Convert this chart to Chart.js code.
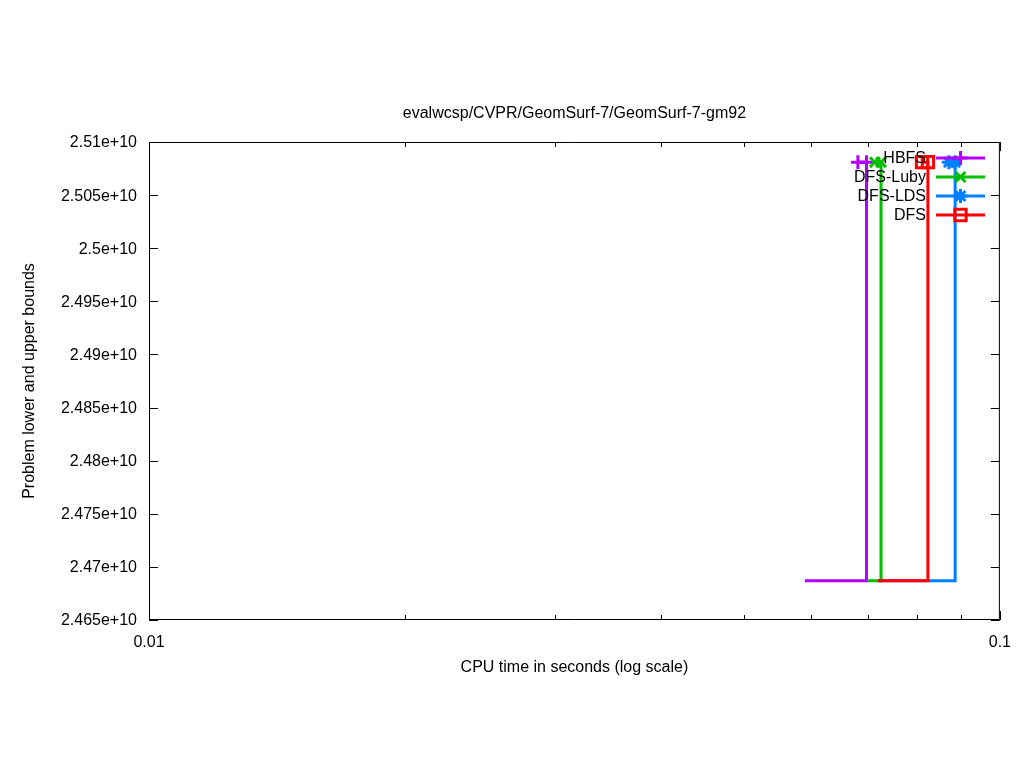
<!DOCTYPE html>
<html>
<head>
<meta charset="utf-8">
<title>GeomSurf-7-gm92</title>
<script src="https://cdn.jsdelivr.net/npm/chart.js@4/dist/chart.umd.min.js"></script>
<style>
    html, body { margin: 0; padding: 0; background: #ffffff; }
    #chart { display: block; }
</style>
</head>
<body>
<canvas id="chart" width="1024" height="768"></canvas>
<script>
// Series names, in legend order
const algoNames = ['HBFS', 'DFS-Luby', 'DFS-LDS', 'DFS'];

// Each series: lower bound run, jump, then upper bound found (time in s, bound)
const hbfsTimes = [0.0590, 0.0697, 0.0697, 0.0681];
const hbfsBounds = [2.4687e10, 2.4687e10, 2.5081e10, 2.5081e10];

const lubyTimes = [0.0698, 0.0725, 0.0725, 0.0713];
const lubyBounds = [2.4687e10, 2.4687e10, 2.5081e10, 2.5081e10];

const ldsTimes = [0.0720, 0.0886, 0.0886, 0.0871];
const ldsBounds = [2.4687e10, 2.4687e10, 2.5081e10, 2.5081e10];

const dfsTimes = [0.0719, 0.0823, 0.0823, 0.0810];
const dfsBounds = [2.4687e10, 2.4687e10, 2.5081e10, 2.5081e10];

// Axis ticks
const yTicks = [2.465e10, 2.47e10, 2.475e10, 2.48e10, 2.485e10, 2.49e10, 2.495e10, 2.5e10, 2.505e10, 2.51e10];
const xMajorTicks = [0.01, 0.1];
const xMinorTicks = [0.02, 0.03, 0.04, 0.05, 0.06, 0.07, 0.08, 0.09];

const FONT = '"Liberation Sans", Arial, sans-serif';
const FONT_SIZE = 16;

function toPoints(times, bounds) {
    return times.map(function(t, i) {
        return { x: t, y: bounds[i] };
    });
}

function makeDataset(label, times, bounds, color, style, radius, order) {
    return {
        label: label,
        data: toPoints(times, bounds),
        showLine: true,
        borderColor: color,
        backgroundColor: color,
        borderWidth: 3,
        pointStyle: style,
        // markers only on the upper bound points
        pointRadius: [0, 0, radius, radius],
        pointBorderColor: color,
        pointBackgroundColor: 'rgba(0,0,0,0)',
        pointBorderWidth: 3,
        order: order
    };
}

/**
 * Cadre, graduations internes et légende façon gnuplot
 */
const framePlugin = {
    id: 'frame',
    beforeDatasetsDraw: function(chart) {
        const ctx = chart.ctx;
        const a = chart.chartArea;
        const xs = chart.scales.x;
        const ys = chart.scales.y;

        ctx.save();
        ctx.strokeStyle = '#000000';
        ctx.lineWidth = 1;
        ctx.beginPath();
        ctx.rect(a.left + 0.5, a.top + 0.5, a.right - a.left - 1, a.bottom - a.top - 1);

        yTicks.forEach(function(v) {
            const py = Math.round(ys.getPixelForValue(v)) + 0.5;
            ctx.moveTo(a.left, py);
            ctx.lineTo(a.left + 9, py);
            ctx.moveTo(a.right, py);
            ctx.lineTo(a.right - 9, py);
        });
        xMinorTicks.forEach(function(v) {
            const px = Math.round(xs.getPixelForValue(v)) + 0.5;
            ctx.moveTo(px, a.bottom);
            ctx.lineTo(px, a.bottom - 5);
            ctx.moveTo(px, a.top);
            ctx.lineTo(px, a.top + 5);
        });
        xMajorTicks.forEach(function(v) {
            const px = Math.round(xs.getPixelForValue(v)) + 0.5;
            ctx.moveTo(px, a.bottom);
            ctx.lineTo(px, a.bottom - 9);
            ctx.moveTo(px, a.top);
            ctx.lineTo(px, a.top + 9);
        });
        ctx.stroke();
        ctx.restore();
    },
    afterDatasetsDraw: function(chart) {
        const ctx = chart.ctx;
        const textRight = 926;
        const lineStart = 936;
        const lineEnd = 985;
        const rowTop = 158;
        const rowStep = 19;

        ctx.save();
        ctx.font = FONT_SIZE + 'px ' + FONT;
        ctx.textAlign = 'right';
        ctx.textBaseline = 'middle';

        chart.data.datasets.forEach(function(ds, i) {
            const y = rowTop + i * rowStep;
            ctx.fillStyle = '#000000';
            ctx.fillText(ds.label, textRight, y + 1);

            ctx.strokeStyle = ds.borderColor;
            ctx.lineWidth = ds.borderWidth;
            ctx.beginPath();
            ctx.moveTo(lineStart, y);
            ctx.lineTo(lineEnd, y);
            ctx.stroke();

            if (Chart.helpers && Chart.helpers.drawPoint) {
                ctx.fillStyle = 'rgba(0,0,0,0)';
                ctx.lineWidth = ds.pointBorderWidth;
                Chart.helpers.drawPoint(ctx, {
                    pointStyle: ds.pointStyle,
                    radius: ds.pointRadius[2],
                    rotation: 0,
                    borderWidth: ds.pointBorderWidth
                }, (lineStart + lineEnd) / 2, y);
            }
        });
        ctx.restore();
    }
};

function formatBound(v) {
    return parseFloat((v / 1e10).toFixed(4)).toString() + 'e+10';
}

function isPowerOfTen(v) {
    const l = Math.log10(v);
    return Math.abs(l - Math.round(l)) < 1e-9;
}

document.addEventListener('DOMContentLoaded', function() {
    const ctx = document.getElementById('chart');

    new Chart(ctx, {
        type: 'scatter',
        data: {
            datasets: [
                makeDataset(algoNames[0], hbfsTimes, hbfsBounds, '#b400ff', 'cross', 7, 4),
                makeDataset(algoNames[1], lubyTimes, lubyBounds, '#00c000', 'crossRot', 7, 3),
                makeDataset(algoNames[2], ldsTimes, ldsBounds, '#0080ff', 'star', 7, 2),
                makeDataset(algoNames[3], dfsTimes, dfsBounds, '#ff0000', 'rect', 8, 1)
            ]
        },
        options: {
            responsive: false,
            devicePixelRatio: 1,
            animation: false,
            events: [],
            layout: {
                padding: { left: 0, right: 24, top: 0, bottom: 0 }
            },
            plugins: {
                legend: { display: false },
                tooltip: { enabled: false },
                title: {
                    display: true,
                    fullSize: false,
                    text: 'evalwcsp/CVPR/GeomSurf-7/GeomSurf-7-gm92',
                    color: '#000000',
                    font: { family: FONT, size: FONT_SIZE, weight: 'normal', lineHeight: 1.2 },
                    padding: { top: 104, bottom: 18.8 }
                }
            },
            scales: {
                x: {
                    type: 'logarithmic',
                    min: 0.01,
                    max: 0.1,
                    grid: { display: false, drawTicks: false },
                    border: { display: false },
                    ticks: {
                        color: '#000000',
                        font: { family: FONT, size: FONT_SIZE },
                        padding: 13,
                        autoSkip: false,
                        maxRotation: 0,
                        callback: function(value) {
                            return isPowerOfTen(value) ? String(value) : '';
                        }
                    },
                    title: {
                        display: true,
                        text: 'CPU time in seconds (log scale)',
                        color: '#000000',
                        font: { family: FONT, size: FONT_SIZE, lineHeight: 1.2 },
                        padding: { top: 0, bottom: 90.6 }
                    },
                    afterFit: function(scale) {
                        scale.height = 148;
                    }
                },
                y: {
                    type: 'linear',
                    min: yTicks[0],
                    max: yTicks[yTicks.length - 1],
                    grid: { display: false, drawTicks: false },
                    border: { display: false },
                    ticks: {
                        stepSize: 5e7,
                        color: '#000000',
                        font: { family: FONT, size: FONT_SIZE },
                        padding: 12,
                        labelOffset: 1,
                        callback: function(value) {
                            return formatBound(value);
                        }
                    },
                    title: {
                        display: true,
                        text: 'Problem lower and upper bounds',
                        color: '#000000',
                        font: { family: FONT, size: FONT_SIZE, lineHeight: 1.2 },
                        padding: { top: 20.4, bottom: 0 }
                    },
                    afterFit: function(scale) {
                        scale.width = 149;
                    }
                }
            }
        },
        plugins: [framePlugin]
    });
});
</script>
</body>
</html>
